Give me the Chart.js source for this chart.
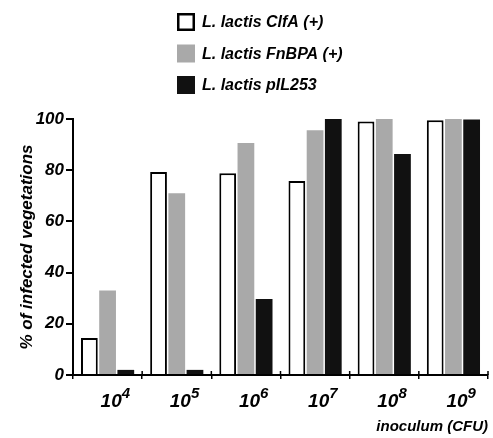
<!DOCTYPE html>
<html>
<head>
<meta charset="utf-8">
<script src="https://cdn.jsdelivr.net/npm/chart.js@4"></script>
<style>
  html, body { margin: 0; padding: 0; background: #fff; }
  #wrap { width: 493px; height: 438px; }
</style>
</head>
<body>
<div id="wrap"><canvas id="grafico"></canvas></div>
<script>
// inoculum exponents (10^n CFU)
const expoentes = [4, 5, 6, 7, 8, 9];

const nomesSeries = ["L. lactis ClfA (+)", "L. lactis FnBPA (+)", "L. lactis pIL253"];
const clfA = [14.5, 79.3, 78.8, 75.8, 99, 99.5];
const fnBPA = [33, 71, 90.6, 95.6, 100, 100];
const pIL253 = [2, 2, 29.7, 100, 86.3, 99.8];

const ticksY = [0, 20, 40, 60, 80, 100];

const familia = "'Liberation Sans', Arial, sans-serif";
const fonte = { family: familia, weight: "bold", style: "italic" };

// legend drawn as a vertical list above the plot
const legendaLateral = {
  id: "legendaLateral",
  afterDraw(chart) {
    const ctx = chart.ctx;
    ctx.save();
    ctx.font = "italic bold 16px " + familia;
    ctx.textBaseline = "middle";
    chart.data.datasets.forEach((ds, i) => {
      const y = 22 + i * 31.5;
      ctx.fillStyle = ds.backgroundColor;
      ctx.fillRect(177, y - 9, 18, 18);
      if (ds.borderWidth) {
        ctx.strokeStyle = "#000";
        ctx.lineWidth = 2.5;
        ctx.strokeRect(178.25, y - 7.75, 15.5, 15.5);
      }
      ctx.fillStyle = "#000";
      ctx.fillText(ds.label, 202, y + 1);
    });
    ctx.restore();
  }
};

// x labels as 10 with a raised exponent, plus tick marks crossing the axis
const rotulosX = {
  id: "rotulosX",
  afterDraw(chart) {
    const x = chart.scales.x;
    const ctx = chart.ctx;
    ctx.save();
    ctx.strokeStyle = "#000";
    ctx.lineWidth = 1.5;
    for (let i = 0; i <= expoentes.length; i++) {
      const px = x.getPixelForValue(i - 0.5);
      ctx.beginPath();
      ctx.moveTo(px, x.top - 4);
      ctx.lineTo(px, x.top);
      ctx.stroke();
    }
    ctx.fillStyle = "#000";
    ctx.textBaseline = "alphabetic";
    ctx.textAlign = "left";
    expoentes.forEach((e, i) => {
      const cx = x.getPixelForValue(i);
      const base = x.top + 32;
      ctx.font = "italic bold 19px " + familia;
      const w = ctx.measureText("10").width;
      const x0 = cx - 7;
      ctx.fillText("10", x0, base);
      ctx.font = "italic bold 15px " + familia;
      ctx.fillText(String(e), x0 + w, base - 9);
    });
    ctx.restore();
  }
};

const grafico = new Chart(document.getElementById("grafico"), {
  type: "bar",
  data: {
    labels: expoentes.map((e) => "10^" + e),
    datasets: [
      { label: nomesSeries[0], data: clfA, backgroundColor: "#ffffff", borderColor: "#000000", borderWidth: 2 },
      { label: nomesSeries[1], data: fnBPA, backgroundColor: "#a9a9a9", borderWidth: 0 },
      { label: nomesSeries[2], data: pIL253, backgroundColor: "#111111", borderWidth: 0 },
    ],
  },
  options: {
    responsive: true,
    maintainAspectRatio: false,
    animation: false,
    datasets: { bar: { categoryPercentage: 0.79, barPercentage: 0.92 } },
    layout: { padding: { top: 119, right: 5, left: 0, bottom: 0 } },
    plugins: { legend: { display: false }, tooltip: { enabled: false } },
    scales: {
      x: {
        afterFit(scale) { scale.height = 63; },
        grid: { offset: true, drawOnChartArea: false, tickLength: 4, color: "#000", lineWidth: 1.5 },
        border: { color: "#000", width: 2 },
        ticks: { display: false },
        title: {
          display: true,
          text: "inoculum (CFU)",
          align: "end",
          color: "#000",
          font: { ...fonte, size: 15 },
          padding: { top: 0, bottom: 2 },
        },
      },
      y: {
        min: 0,
        max: 100,
        afterFit(scale) { scale.width = 73; },
        afterBuildTicks(scale) { scale.ticks = ticksY.map((v) => ({ value: v })); },
        grid: { drawOnChartArea: false, tickLength: 7, color: "#000", lineWidth: 2 },
        border: { color: "#000", width: 2 },
        ticks: { color: "#000", padding: 2, font: { ...fonte, size: 17 } },
        title: {
          display: true,
          text: "% of infected vegetations",
          color: "#000",
          font: { ...fonte, size: 17 },
          padding: { top: 17, bottom: 0 },
        },
      },
    },
  },
  plugins: [legendaLateral, rotulosX],
});
</script>
</body>
</html>
